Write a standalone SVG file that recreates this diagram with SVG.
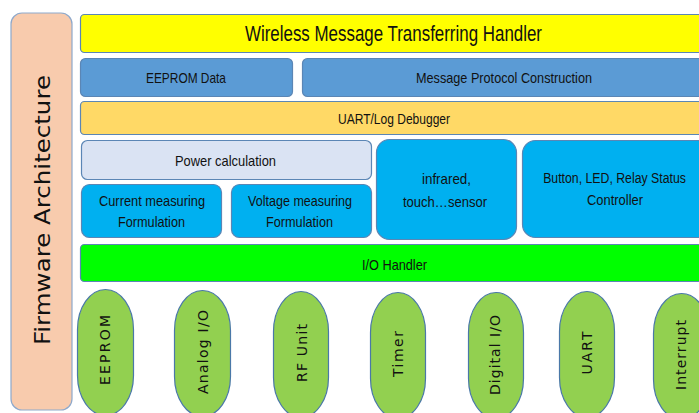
<svg xmlns="http://www.w3.org/2000/svg" width="699" height="413" viewBox="0 0 699 413">
<style>
.b{stroke:#5B86B5;stroke-width:1.2}
.t{font-family:"Liberation Sans",Arial,sans-serif;fill:#111;text-anchor:middle}
.v{font-family:"DejaVu Sans",Verdana,sans-serif;fill:#111;text-anchor:middle}
.ov{fill:#92D050;stroke:#4A78A8;stroke-width:1.2}
</style>
<rect width="699" height="413" fill="#fff"/>
<g id="firmware">
<rect x="11" y="13" width="61" height="397" rx="11" fill="#F8CBAD" stroke="#8EA9CC" stroke-width="1.2"/>
<text class="v" transform="translate(50,210) rotate(-90)" font-size="21" textLength="270" lengthAdjust="spacingAndGlyphs">Firmware Architecture</text>
</g>
<g id="wireless">
<rect class="b" x="80.5" y="14.5" width="630" height="38" rx="4" fill="#FFFF00"/>
<text class="t" x="393.5" y="40.5" font-size="22" textLength="297" lengthAdjust="spacingAndGlyphs">Wireless Message Transferring Handler</text>
</g>
<g id="eeprom-data">
<rect class="b" x="80.5" y="58.5" width="212" height="38" rx="5" fill="#5B9BD5"/>
<text class="t" x="186" y="83" font-size="15" textLength="80" lengthAdjust="spacingAndGlyphs">EEPROM Data</text>
</g>
<g id="message-protocol">
<rect class="b" x="302.5" y="58.5" width="410" height="38" rx="5" fill="#5B9BD5"/>
<text class="t" x="504" y="83" font-size="15" textLength="176" lengthAdjust="spacingAndGlyphs">Message Protocol Construction</text>
</g>
<g id="uart-log">
<rect class="b" x="80.5" y="101.5" width="630" height="33" rx="4" fill="#FFD966"/>
<text class="t" x="394" y="123.5" font-size="15" textLength="112" lengthAdjust="spacingAndGlyphs">UART/Log Debugger</text>
</g>
<g id="power">
<rect class="b" x="81.5" y="140.5" width="290" height="39" rx="6" fill="#DAE3F3"/>
<text class="t" x="225.5" y="166" font-size="15" textLength="101" lengthAdjust="spacingAndGlyphs">Power calculation</text>
</g>
<g id="current">
<rect class="b" x="81.5" y="184.5" width="140" height="53" rx="8" fill="#00B0F0"/>
<text class="t" x="152" y="206" font-size="15" textLength="106" lengthAdjust="spacingAndGlyphs">Current measuring</text>
<text class="t" x="151.5" y="227" font-size="15" textLength="67" lengthAdjust="spacingAndGlyphs">Formulation</text>
</g>
<g id="voltage">
<rect class="b" x="231.5" y="184.5" width="140" height="53" rx="8" fill="#00B0F0"/>
<text class="t" x="300" y="206" font-size="15" textLength="104" lengthAdjust="spacingAndGlyphs">Voltage measuring</text>
<text class="t" x="299.5" y="227" font-size="15" textLength="67" lengthAdjust="spacingAndGlyphs">Formulation</text>
</g>
<g id="infrared">
<rect class="b" x="376.5" y="139.5" width="140" height="100" rx="13" fill="#00B0F0"/>
<text class="t" x="446.5" y="184" font-size="15" textLength="49" lengthAdjust="spacingAndGlyphs">infrared,</text>
<text class="t" x="445" y="206.5" font-size="15" textLength="84" lengthAdjust="spacingAndGlyphs">touch…sensor</text>
</g>
<g id="button">
<rect class="b" x="522.5" y="140.5" width="190" height="97" rx="13" fill="#00B0F0"/>
<text class="t" transform="translate(614.5,183) scale(0.82,1)" font-size="15">Button, LED, Relay Status</text>
<text class="t" x="615" y="205" font-size="15" textLength="56" lengthAdjust="spacingAndGlyphs">Controller</text>
</g>
<g id="io-handler">
<rect class="b" x="80.5" y="244.5" width="630" height="37" rx="4" fill="#00FF00"/>
<text class="t" x="394.5" y="270" font-size="15" textLength="65" lengthAdjust="spacingAndGlyphs">I/O Handler</text>
</g>
<g id="eeprom">
<rect class="ov" x="77.5" y="289.5" width="56" height="126" rx="28" ry="40"/>
<text class="v" transform="translate(110,350) rotate(-90)" font-size="14" textLength="70" lengthAdjust="spacing">EEPROM</text>
</g>
<g id="analog-io">
<rect class="ov" x="174.5" y="290.5" width="56" height="126" rx="28" ry="40"/>
<text class="v" transform="translate(208,352) rotate(-90)" font-size="14" textLength="84" lengthAdjust="spacing">Analog I/O</text>
</g>
<g id="rf-unit">
<rect class="ov" x="273.5" y="291.5" width="55" height="126" rx="27.5" ry="40"/>
<text class="v" transform="translate(306.5,353) rotate(-90)" font-size="14" textLength="58" lengthAdjust="spacing">RF Unit</text>
</g>
<g id="timer">
<rect class="ov" x="370.5" y="292.5" width="55" height="126" rx="27.5" ry="40"/>
<text class="v" transform="translate(403,354) rotate(-90)" font-size="14" textLength="46" lengthAdjust="spacing">Timer</text>
</g>
<g id="digital-io">
<rect class="ov" x="468.5" y="292.5" width="55" height="126" rx="27.5" ry="40"/>
<text class="v" transform="translate(500,355) rotate(-90)" font-size="14" textLength="80" lengthAdjust="spacing">Digital I/O</text>
</g>
<g id="uart">
<rect class="ov" x="559.5" y="291.5" width="55" height="126" rx="27.5" ry="40"/>
<text class="v" transform="translate(592,353) rotate(-90)" font-size="14" textLength="43" lengthAdjust="spacing">UART</text>
</g>
<g id="interrupt">
<rect class="ov" x="653.5" y="293.5" width="56" height="126" rx="28" ry="40"/>
<text class="v" transform="translate(686,355) rotate(-90)" font-size="14" textLength="70" lengthAdjust="spacing">Interrupt</text>
</g>
<g id="connectors"></g>
</svg>
